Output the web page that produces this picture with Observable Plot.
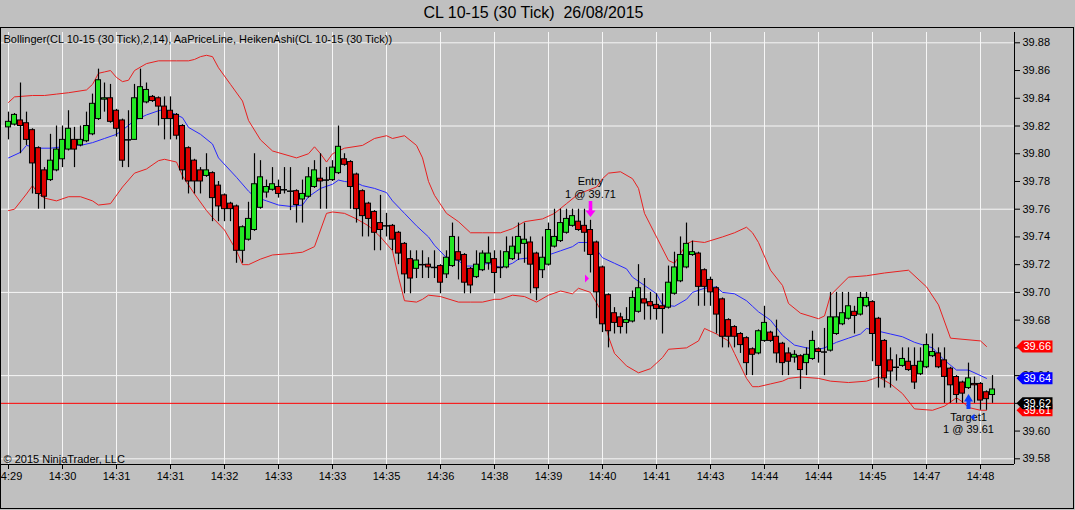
<!DOCTYPE html>
<html>
<head>
<meta charset="utf-8">
<script src="https://cdn.jsdelivr.net/npm/d3@7"></script>
<script src="https://cdn.jsdelivr.net/npm/@observablehq/plot@0.6"></script>
<style>
  body { margin: 0; background: #c0c0c0; font-family: "Liberation Sans", Arial, sans-serif; }
  #wrap { position: relative; width: 1075px; height: 510px; overflow: hidden; }
  #title { position: absolute; top: 4px; left: 0; width: 1067px; text-align: center; font-size: 16px; color: #000; }
  #chart { position: absolute; top: 27px; left: 0; }
  #border { position: absolute; top: 27px; left: 0; width: 1072px; height: 480px; border: 1px solid #000; pointer-events: none; }
</style>
</head>
<body>
<div id="wrap">
  <div id="title">CL 10-15 (30 Tick)&nbsp;&nbsp;26/08/2015</div>
  <div id="chart"></div>
  <div id="border"></div>
</div>
<script>
// Heiken Ashi bars, one value per bar (bar index = position in array).
const opens = [
  39.819, 39.821, 39.824, 39.822, 39.817, 39.804, 39.788, 39.781, 39.788, 39.796,
  39.803, 39.810, 39.806, 39.809, 39.814, 39.825, 39.839, 39.840, 39.831, 39.824,
  39.810, 39.810, 39.825, 39.837, 39.841, 39.840, 39.834, 39.831, 39.828, 39.820,
  39.804, 39.795, 39.788, 39.784, 39.786, 39.777, 39.770, 39.764, 39.762, 39.730,
  39.738, 39.745, 39.761, 39.772, 39.774, 39.776, 39.774, 39.773, 39.773, 39.767,
  39.769, 39.776, 39.782, 39.781, 39.781, 39.786, 39.796, 39.794, 39.785, 39.773,
  39.764, 39.758, 39.750, 39.748, 39.748, 39.743, 39.735, 39.724, 39.717, 39.720,
  39.720, 39.718, 39.719, 39.713, 39.719, 39.729, 39.727, 39.717, 39.711, 39.716,
  39.721, 39.724, 39.718, 39.718, 39.724, 39.728, 39.735, 39.736, 39.728, 39.716,
  39.720, 39.733, 39.737, 39.743, 39.748, 39.751, 39.748, 39.745, 39.736, 39.718,
  39.698, 39.685, 39.682, 39.678, 39.679, 39.686, 39.695, 39.693, 39.691, 39.690,
  39.689, 39.699, 39.708, 39.718, 39.727, 39.728, 39.716, 39.709, 39.703, 39.695,
  39.680, 39.675, 39.670, 39.667, 39.659, 39.656, 39.665, 39.671, 39.668, 39.663,
  39.656, 39.653, 39.654, 39.649, 39.652, 39.659, 39.657, 39.658, 39.670, 39.677,
  39.681, 39.686, 39.684, 39.690, 39.693, 39.681, 39.665, 39.651, 39.646, 39.647,
  39.650, 39.647, 39.641, 39.646, 39.654, 39.656, 39.651, 39.645, 39.639, 39.635,
  39.631, 39.634, 39.634, 39.628, 39.626
];
const closes = [
  39.823, 39.828, 39.820, 39.810, 39.793, 39.771, 39.769, 39.795, 39.803, 39.810,
  39.818, 39.803, 39.810, 39.820, 39.836, 39.853, 39.840, 39.823, 39.818, 39.795,
  39.810, 39.840, 39.848, 39.846, 39.838, 39.834, 39.825, 39.825, 39.813, 39.788,
  39.780, 39.780, 39.780, 39.788, 39.768, 39.762, 39.760, 39.760, 39.730, 39.747,
  39.753, 39.778, 39.783, 39.776, 39.778, 39.771, 39.774, 39.773, 39.763, 39.771,
  39.783, 39.788, 39.780, 39.781, 39.790, 39.805, 39.792, 39.776, 39.760, 39.755,
  39.753, 39.743, 39.745, 39.748, 39.738, 39.728, 39.713, 39.710, 39.723, 39.720,
  39.718, 39.718, 39.707, 39.725, 39.740, 39.723, 39.707, 39.705, 39.720, 39.728,
  39.728, 39.714, 39.718, 39.729, 39.733, 39.740, 39.738, 39.720, 39.703, 39.725,
  39.745, 39.740, 39.750, 39.753, 39.755, 39.745, 39.743, 39.727, 39.700, 39.677,
  39.672, 39.678, 39.675, 39.680, 39.696, 39.703, 39.692, 39.690, 39.688, 39.688,
  39.707, 39.718, 39.727, 39.735, 39.729, 39.704, 39.704, 39.700, 39.684, 39.668,
  39.668, 39.668, 39.662, 39.649, 39.655, 39.672, 39.678, 39.665, 39.656, 39.649,
  39.650, 39.655, 39.644, 39.655, 39.665, 39.657, 39.657, 39.682, 39.682, 39.685,
  39.690, 39.683, 39.696, 39.696, 39.670, 39.647, 39.638, 39.643, 39.646, 39.652,
  39.644, 39.635, 39.650, 39.662, 39.657, 39.646, 39.639, 39.633, 39.626, 39.627,
  39.638, 39.633, 39.622, 39.623, 39.630
];
const highs = [
  39.830, 39.829, 39.851, 39.830, 39.818, 39.805, 39.790, 39.814, 39.820, 39.820,
  39.831, 39.819, 39.820, 39.830, 39.843, 39.861, 39.851, 39.850, 39.832, 39.825,
  39.831, 39.850, 39.861, 39.851, 39.842, 39.841, 39.841, 39.841, 39.829, 39.821,
  39.805, 39.796, 39.790, 39.800, 39.787, 39.780, 39.771, 39.765, 39.763, 39.748,
  39.765, 39.800, 39.795, 39.781, 39.790, 39.781, 39.790, 39.790, 39.774, 39.781,
  39.790, 39.795, 39.800, 39.790, 39.795, 39.820, 39.800, 39.795, 39.786, 39.774,
  39.765, 39.759, 39.770, 39.757, 39.749, 39.744, 39.736, 39.730, 39.730, 39.730,
  39.725, 39.730, 39.720, 39.730, 39.750, 39.740, 39.728, 39.718, 39.730, 39.730,
  39.740, 39.730, 39.730, 39.740, 39.740, 39.750, 39.750, 39.740, 39.729, 39.740,
  39.750, 39.760, 39.760, 39.760, 39.760, 39.760, 39.760, 39.752, 39.737, 39.719,
  39.699, 39.689, 39.685, 39.689, 39.701, 39.720, 39.710, 39.700, 39.699, 39.699,
  39.719, 39.729, 39.740, 39.750, 39.737, 39.729, 39.717, 39.711, 39.704, 39.696,
  39.681, 39.676, 39.671, 39.668, 39.660, 39.673, 39.690, 39.672, 39.680, 39.664,
  39.660, 39.658, 39.655, 39.660, 39.672, 39.660, 39.674, 39.700, 39.700, 39.700,
  39.700, 39.690, 39.700, 39.700, 39.694, 39.682, 39.666, 39.660, 39.655, 39.660,
  39.660, 39.660, 39.660, 39.670, 39.670, 39.660, 39.660, 39.646, 39.640, 39.636,
  39.649, 39.639, 39.635, 39.629, 39.640
];
const lows = [
  39.810, 39.820, 39.800, 39.806, 39.771, 39.760, 39.760, 39.780, 39.787, 39.790,
  39.802, 39.790, 39.805, 39.808, 39.813, 39.824, 39.830, 39.822, 39.812, 39.790,
  39.790, 39.810, 39.825, 39.836, 39.837, 39.820, 39.810, 39.810, 39.810, 39.781,
  39.771, 39.771, 39.771, 39.783, 39.751, 39.751, 39.751, 39.751, 39.721, 39.721,
  39.737, 39.744, 39.760, 39.768, 39.773, 39.768, 39.771, 39.759, 39.750, 39.750,
  39.768, 39.775, 39.760, 39.760, 39.780, 39.785, 39.791, 39.760, 39.750, 39.740,
  39.740, 39.730, 39.730, 39.740, 39.730, 39.720, 39.699, 39.699, 39.710, 39.710,
  39.710, 39.710, 39.699, 39.710, 39.718, 39.709, 39.699, 39.699, 39.710, 39.715,
  39.716, 39.699, 39.710, 39.717, 39.723, 39.723, 39.721, 39.699, 39.694, 39.710,
  39.719, 39.732, 39.736, 39.742, 39.747, 39.744, 39.729, 39.714, 39.681, 39.671,
  39.660, 39.670, 39.670, 39.670, 39.678, 39.685, 39.680, 39.680, 39.680, 39.670,
  39.688, 39.698, 39.707, 39.717, 39.726, 39.690, 39.690, 39.690, 39.670, 39.660,
  39.660, 39.660, 39.656, 39.640, 39.640, 39.655, 39.664, 39.664, 39.649, 39.640,
  39.640, 39.649, 39.630, 39.640, 39.651, 39.649, 39.640, 39.657, 39.669, 39.676,
  39.680, 39.670, 39.683, 39.689, 39.650, 39.631, 39.631, 39.631, 39.636, 39.646,
  39.643, 39.630, 39.640, 39.645, 39.653, 39.645, 39.620, 39.620, 39.620, 39.620,
  39.630, 39.620, 39.615, 39.615, 39.620
];

// Bollinger(2,14) as [bar, price] points.
const upperBand = [
  [0, 39.837], [1, 39.841], [4, 39.842], [6, 39.842], [8, 39.843], [10, 39.844], [13, 39.846], [14, 39.850],
  [15, 39.858], [16, 39.859], [17, 39.860], [18, 39.855], [19, 39.852], [20, 39.853], [21, 39.860], [23, 39.865],
  [25, 39.867], [28, 39.867], [30, 39.867], [31, 39.868], [32, 39.870], [33, 39.871], [34, 39.870], [35, 39.862],
  [37, 39.850], [39, 39.838], [40, 39.824], [42, 39.810], [44, 39.802], [48, 39.797], [50, 39.800], [51, 39.805],
  [52, 39.800], [53, 39.794], [54, 39.800], [56, 39.804], [59, 39.806], [61, 39.811], [63, 39.813], [64, 39.811],
  [66, 39.813], [68, 39.806], [69, 39.797], [70, 39.780], [71, 39.770], [73, 39.757], [75, 39.751], [77, 39.743],
  [79, 39.743], [82, 39.743], [84, 39.746], [86, 39.751], [89, 39.753], [91, 39.757], [93, 39.764], [95, 39.771],
  [98, 39.776], [99, 39.782], [100, 39.786], [102, 39.787], [104, 39.782], [105, 39.775], [106, 39.757], [108, 39.740],
  [110, 39.723], [111, 39.721], [113, 39.735], [114, 39.737], [116, 39.736], [119, 39.740], [121, 39.743], [123, 39.747],
  [124, 39.743], [125, 39.736], [127, 39.716], [129, 39.705], [130, 39.692], [132, 39.685], [135, 39.681], [136, 39.683],
  [137, 39.698], [140, 39.711], [143, 39.712], [146, 39.714], [150, 39.716], [153, 39.704], [155, 39.691], [157, 39.667],
  [162, 39.665], [163, 39.661]
];
const midBand = [
  [0, 39.797], [2, 39.801], [3, 39.806], [5, 39.804], [7, 39.804], [9, 39.805], [10, 39.807], [12, 39.806],
  [14, 39.808], [16, 39.811], [18, 39.814], [19, 39.817], [21, 39.824], [23, 39.828], [25, 39.831], [26, 39.832],
  [27, 39.830], [29, 39.826], [30, 39.819], [32, 39.814], [34, 39.807], [35, 39.797], [38, 39.783], [40, 39.773],
  [41, 39.769], [43, 39.766], [45, 39.763], [47, 39.762], [49, 39.763], [50, 39.769], [52, 39.775], [54, 39.778],
  [55, 39.781], [56, 39.780], [58, 39.779], [59, 39.777], [61, 39.775], [63, 39.772], [64, 39.766], [66, 39.757],
  [68, 39.748], [70, 39.740], [71, 39.734], [73, 39.725], [75, 39.723], [76, 39.719], [78, 39.719], [80, 39.721],
  [82, 39.718], [84, 39.721], [85, 39.724], [87, 39.725], [89, 39.723], [90, 39.727], [92, 39.730], [94, 39.733],
  [95, 39.736], [97, 39.736], [98, 39.731], [99, 39.725], [101, 39.721], [103, 39.717], [104, 39.711], [106, 39.705],
  [108, 39.699], [109, 39.691], [111, 39.690], [113, 39.695], [114, 39.700], [116, 39.703], [118, 39.704], [119, 39.700],
  [121, 39.699], [123, 39.694], [124, 39.690], [125, 39.686], [127, 39.680], [129, 39.669], [131, 39.662], [133, 39.660],
  [135, 39.659], [136, 39.660], [138, 39.664], [140, 39.667], [142, 39.670], [143, 39.674], [145, 39.672], [147, 39.670],
  [149, 39.668], [151, 39.664], [154, 39.660], [156, 39.651], [158, 39.644], [160, 39.644], [163, 39.638]
];
const lowerBand = [
  [0, 39.759], [1, 39.760], [3, 39.771], [4, 39.777], [5, 39.771], [6, 39.768], [8, 39.766], [10, 39.769],
  [12, 39.769], [14, 39.766], [15, 39.763], [17, 39.764], [19, 39.776], [21, 39.786], [23, 39.789], [25, 39.795],
  [26, 39.796], [28, 39.794], [29, 39.784], [31, 39.771], [33, 39.759], [34, 39.754], [36, 39.745], [38, 39.730],
  [39, 39.720], [40, 39.720], [42, 39.724], [44, 39.727], [47, 39.728], [49, 39.729], [51, 39.733], [53, 39.757],
  [54, 39.758], [56, 39.757], [58, 39.753], [60, 39.748], [62, 39.740], [64, 39.730], [65, 39.711], [66, 39.694],
  [68, 39.693], [69, 39.695], [70, 39.698], [72, 39.697], [75, 39.693], [77, 39.693], [79, 39.693], [81, 39.695],
  [82, 39.695], [84, 39.698], [86, 39.697], [88, 39.693], [90, 39.698], [92, 39.701], [94, 39.699], [95, 39.703],
  [97, 39.700], [99, 39.685], [100, 39.668], [101, 39.656], [103, 39.647], [105, 39.642], [107, 39.645], [109, 39.653],
  [110, 39.659], [113, 39.660], [115, 39.665], [116, 39.674], [118, 39.670], [120, 39.665], [121, 39.656], [123, 39.638],
  [124, 39.632], [125, 39.632], [127, 39.634], [129, 39.636], [130, 39.638], [132, 39.639], [135, 39.638], [137, 39.636],
  [140, 39.635], [143, 39.636], [145, 39.639], [147, 39.634], [149, 39.627], [151, 39.616], [154, 39.615], [156, 39.618],
  [158, 39.624], [159, 39.621], [160, 39.617], [162, 39.615], [163, 39.615]
];

const timeLabels = ["14:29", "14:30", "14:31", "14:31", "14:32", "14:33", "14:33", "14:35", "14:36", "14:38",
  "14:39", "14:40", "14:41", "14:43", "14:44", "14:44", "14:45", "14:47", "14:48"];
const timeBars = [0, 9, 18, 27, 36, 45, 54, 63, 72, 81, 90, 99, 108, 117, 126, 135, 144, 153, 162];
const priceTicks = [39.58, 39.60, 39.62, 39.64, 39.66, 39.68, 39.70, 39.72, 39.74, 39.76, 39.78, 39.80, 39.82, 39.84, 39.86, 39.88];
const gridPrices = [39.58, 39.64, 39.70, 39.76, 39.82, 39.88];

const priceLine = 39.62;
const entry = {bar: 97, price: 39.71, top: 39.7655, label: "Entry\n1 @ 39.71"};
const target = {bar: 160, price: 39.61, bottom: 39.6165, label: "Target1\n1 @ 39.61"};
// right-hand value tags: lower band, price line, middle band, upper band
const tags = [
  {y: 39.615, text: "39.61", color: "#ff0000"},
  {y: 39.661, text: "39.66", color: "#ff0000"},
  {y: 39.638, text: "39.64", color: "#0000ff"},
  {y: 39.62, text: "39.62", color: "#000000"}
];

const bars = opens.map((o, i) => ({i, o, c: closes[i], h: highs[i], l: lows[i]}));
const bodies = bars.filter((d) => d.o !== d.c);
const dojis = bars.filter((d) => d.o === d.c);
const pt = ([bar, price]) => ({bar, price});

// custom marker shapes (pixel units around the anchor point)
const arrowDown = {draw(ctx) {
  ctx.moveTo(-1.8, -9.5); ctx.lineTo(1.8, -9.5); ctx.lineTo(1.8, 0); ctx.lineTo(5, 0);
  ctx.lineTo(0, 6.5); ctx.lineTo(-5, 0); ctx.lineTo(-1.8, 0); ctx.closePath();
}};
const arrowUp = {draw(ctx) {
  ctx.moveTo(-2, 7.5); ctx.lineTo(2, 7.5); ctx.lineTo(2, 0); ctx.lineTo(4.5, 0);
  ctx.lineTo(0, -7.5); ctx.lineTo(-4.5, 0); ctx.lineTo(-2, 0); ctx.closePath();
}};
const triRight = {draw(ctx) { ctx.moveTo(-5.5, -4); ctx.lineTo(-1.5, 0); ctx.lineTo(-5.5, 4); ctx.closePath(); }};
const triLeft = {draw(ctx) { ctx.moveTo(6, -3.5); ctx.lineTo(2, 0); ctx.lineTo(6, 3.5); ctx.closePath(); }};
const tagShape = {draw(ctx) {
  ctx.moveTo(2, 0); ctx.lineTo(8, -6); ctx.lineTo(38, -6); ctx.lineTo(38, 6); ctx.lineTo(8, 6); ctx.closePath();
}};

const xDomain = [-4 / 3, 503 / 3];
const yDomain = [39.57589, 39.88743];
const grid = "#f6f6f6";

const chart = Plot.plot({
  width: 1075,
  height: 483,
  marginTop: 5,
  marginBottom: 46,
  marginLeft: 0,
  marginRight: 61,
  x: {type: "linear", domain: xDomain, axis: null},
  y: {domain: yDomain, axis: null},
  style: {background: "transparent", fontFamily: "'Liberation Sans', Arial, sans-serif", fontSize: "11px", color: "#000", overflow: "visible"},
  marks: [
    Plot.ruleY(gridPrices, {stroke: grid}),
    Plot.ruleX(timeBars, {stroke: grid}),
    Plot.line(upperBand.map(pt), {x: "bar", y: "price", stroke: "#e82020", strokeWidth: 1}),
    Plot.line(lowerBand.map(pt), {x: "bar", y: "price", stroke: "#e82020", strokeWidth: 1}),
    Plot.line(midBand.map(pt), {x: "bar", y: "price", stroke: "#2828ff", strokeWidth: 1}),
    Plot.ruleY([priceLine], {stroke: "#ff0000", strokeWidth: 1}),
    // wicks behind the bodies
    Plot.ruleX(bars, {x: "i", y1: "l", y2: "h", stroke: "#000", strokeWidth: 1.2}),
    Plot.rect(bodies, {
      x1: (d) => d.i - 0.42, x2: (d) => d.i + 0.42, y1: "o", y2: "c",
      fill: (d) => (d.c > d.o ? "#22e822" : "#dd0000"), stroke: "#000", strokeWidth: 1
    }),
    Plot.ruleY(dojis, {y: "o", x1: (d) => d.i - 0.5, x2: (d) => d.i + 0.5, stroke: "#000", strokeWidth: 1.5}),
    // execution markers
    Plot.dot([entry], {x: "bar", y: (d) => 39.759, symbol: arrowDown, fill: "#ff00ff", stroke: "none"}),
    Plot.dot([entry], {x: "bar", y: "price", symbol: triRight, fill: "#ff00ff", stroke: "none"}),
    Plot.text([entry], {x: "bar", y: "top", text: "label", lineAnchor: "bottom", dy: -4, fontSize: 11, lineHeight: 1.12}),
    Plot.dot([target], {x: "bar", y: (d) => 39.6214, symbol: arrowUp, fill: "#0a3cff", stroke: "none"}),
    Plot.text([target], {x: "bar", y: "bottom", text: "label", lineAnchor: "top", dy: 4, fontSize: 11, lineHeight: 1.12}),
    Plot.dot([target], {x: "bar", y: "price", symbol: triLeft, fill: "#0a3cff", stroke: "none"}),
    // axes and frame lines
    Plot.ruleY([yDomain[0]], {stroke: "#000"}),
    Plot.ruleX([xDomain[1]], {stroke: "#000"}),
    Plot.axisX({ticks: timeBars, tickFormat: (d) => timeLabels[timeBars.indexOf(d)], tickSize: 5, tickPadding: 3, label: null, fontSize: 11}),
    Plot.axisY({anchor: "right", ticks: priceTicks, tickFormat: (d) => d.toFixed(2), tickSize: 5, tickPadding: 3, label: null, fontSize: 11}),
    // value tags on the price axis
    Plot.dot(tags, {y: "y", frameAnchor: "right", symbol: tagShape, fill: "color", stroke: "none"}),
    Plot.text(tags, {y: "y", text: "text", frameAnchor: "right", dx: 9, textAnchor: "start", fill: "#fff", fontSize: 11}),
    Plot.text(["Bollinger(CL 10-15 (30 Tick),2,14), AaPriceLine, HeikenAshi(CL 10-15 (30 Tick))"],
      {frameAnchor: "top-left", dx: 3, dy: 3, lineAnchor: "top", textAnchor: "start", fontSize: 11}),
    Plot.text(["© 2015 NinjaTrader, LLC"], {frameAnchor: "bottom-left", dx: 3, dy: -2, lineAnchor: "bottom", textAnchor: "start", fontSize: 11})
  ]
});
document.getElementById("chart").append(chart);
</script>
</body>
</html>
